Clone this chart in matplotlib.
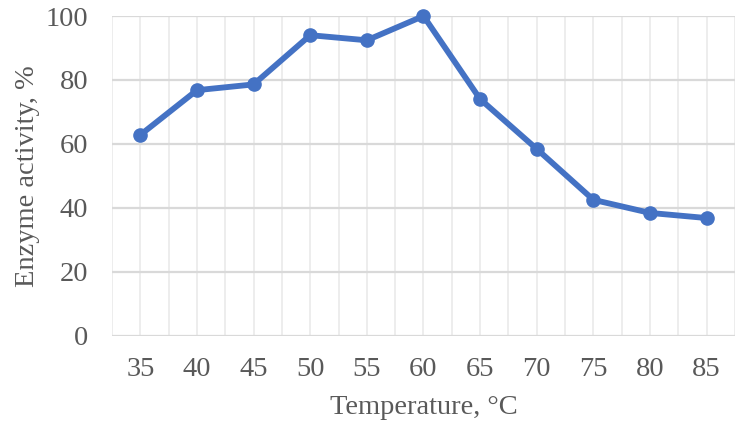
import matplotlib
matplotlib.use("Agg")
import matplotlib.pyplot as plt
import numpy as np

temperatures = ["35", "40", "45", "50", "55", "60", "65", "70", "75", "80", "85"]
activity = [62.8, 76.8, 78.6, 94.0, 92.4, 100.0, 74.0, 58.4, 42.5, 38.4, 36.8]
y_ticks = [0, 20, 40, 60, 80, 100]

plt.rcParams["font.family"] = ["Liberation Serif", "DejaVu Serif"]

fig = plt.figure(figsize=(7.45, 4.29), dpi=100)
ax = fig.add_axes([112 / 745, 1 - 335.7 / 429, (735 - 112) / 745, (335.7 - 16) / 429])

x = np.arange(len(temperatures))
n = len(temperatures)

# light vertical grid at categories and between them
for xv in np.arange(-0.5, n, 0.5):
    ax.axvline(xv, color="#EAEAEA", linewidth=1.2, zorder=0)
for yv in y_ticks:
    ax.axhline(yv, color="#D9D9D9", linewidth=1.6, zorder=1)

ax.plot(x, activity, color="#4472C4", linewidth=4.2, marker="o",
        markersize=9.5, zorder=3, clip_on=False)

ax.set_xlim(-0.5, n - 0.5)
ax.set_ylim(0, 100)
ax.set_xticks(x)
ax.set_xticklabels(temperatures)
ax.set_yticks(y_ticks)
for s in ax.spines.values():
    s.set_visible(False)
ax.tick_params(length=0, labelsize=20.5, colors="#595959")
ax.tick_params(axis="x", pad=15)
ax.tick_params(axis="y", pad=17)

ax.set_xlabel("Temperature, \u00b0C", fontsize=20.5, color="#595959", labelpad=10)
ax.set_ylabel("Enzyme activity, %", fontsize=20.5, color="#595959", labelpad=4)

fig.savefig("out.png", dpi=100)
